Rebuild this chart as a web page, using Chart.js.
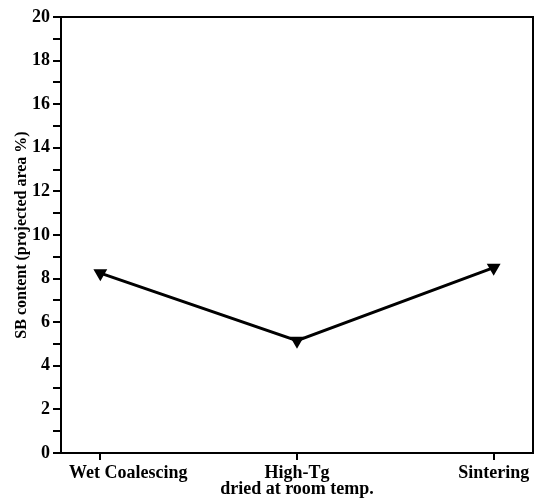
<!DOCTYPE html>
<html>
<head>
<meta charset="utf-8">
<script src="https://cdn.jsdelivr.net/npm/chart.js@4/dist/chart.umd.min.js"></script>
<style>
  html, body { margin: 0; padding: 0; background: #fff; }
  #wrap { width: 541px; height: 499px; }
</style>
</head>
<body>
<div id="wrap"><canvas id="sbChart" width="541" height="499"></canvas></div>
<script>
const categories = ['Wet Coalescing', ['High-Tg', 'dried at room temp.'], 'Sintering'];
const sbContent = [8.25, 5.15, 8.5];
const yTicks = [0, 2, 4, 6, 8, 10, 12, 14, 16, 18, 20];

const serif = "'Liberation Serif', 'DejaVu Serif', serif";

// box around the plot area (top and right edges)
const frame = {
  id: 'frame',
  afterDraw: (chart) => {
    const { ctx, chartArea: a } = chart;
    ctx.save();
    ctx.strokeStyle = '#000';
    ctx.lineWidth = 2;
    ctx.strokeRect(a.left, a.top, a.right - a.left, a.bottom - a.top);
    ctx.restore();
  },
};

// the first category label sits right of its tick in the original
const shiftFirstLabel = {
  id: 'shiftFirstLabel',
  beforeDraw: (chart) => {
    const items = chart.scales.x.getLabelItems();
    if (items.length && !items[0].shifted) {
      items[0].options.translation[0] += 28;
      items[0].shifted = true;
    }
  },
};

new Chart(document.getElementById('sbChart'), {
  type: 'line',
  data: {
    datasets: [{
      data: sbContent.map((v, i) => ({ x: i, y: v })),
      borderColor: '#000',
      backgroundColor: '#000',
      borderWidth: 3,
      pointStyle: 'triangle',
      rotation: 180,
      pointRadius: 5,
      tension: 0,
    }],
  },
  options: {
    responsive: false,
    animation: false,
    layout: { padding: { top: 17, right: 6, left: 0, bottom: 0 } },
    plugins: { legend: { display: false }, tooltip: { enabled: false } },
    scales: {
      x: {
        type: 'linear',
        min: -0.2,
        max: 2.2,
        afterBuildTicks: (s) => { s.ticks = categories.map((c, i) => ({ value: i })); },
        afterFit: (s) => { s.height = 46; s.paddingLeft = 0; s.paddingRight = 0; },
        border: { color: '#000', width: 2 },
        grid: { drawOnChartArea: false, color: '#000', lineWidth: 2, tickLength: 7 },
        ticks: {
          color: '#000',
          maxRotation: 0,
          autoSkip: false,
          padding: 6,
          font: { family: serif, size: 18, weight: 'bold', lineHeight: 0.87 },
          callback: (v) => categories[v],
        },
      },
      y: {
        min: 0,
        max: 20,
        afterBuildTicks: (s) => {
          const t = [];
          for (let v = 0; v <= 20; v++) t.push({ value: v });
          s.ticks = t;
        },
        afterFit: (s) => { s.width = 61; },
        border: { color: '#000', width: 2 },
        grid: { drawOnChartArea: false, color: '#000', lineWidth: 2, tickLength: 8 },
        title: {
          display: true,
          text: 'SB content (projected area %)',
          color: '#000',
          font: { family: serif, size: 16, weight: 'bold' },
          padding: { top: 12, bottom: 0 },
        },
        ticks: {
          color: '#000',
          autoSkip: false,
          padding: 3,
          font: { family: serif, size: 18, weight: 'bold' },
          callback: (v) => (yTicks.includes(v) ? v : ''),
        },
      },
    },
  },
  plugins: [frame, shiftFirstLabel],
});
</script>
</body>
</html>
